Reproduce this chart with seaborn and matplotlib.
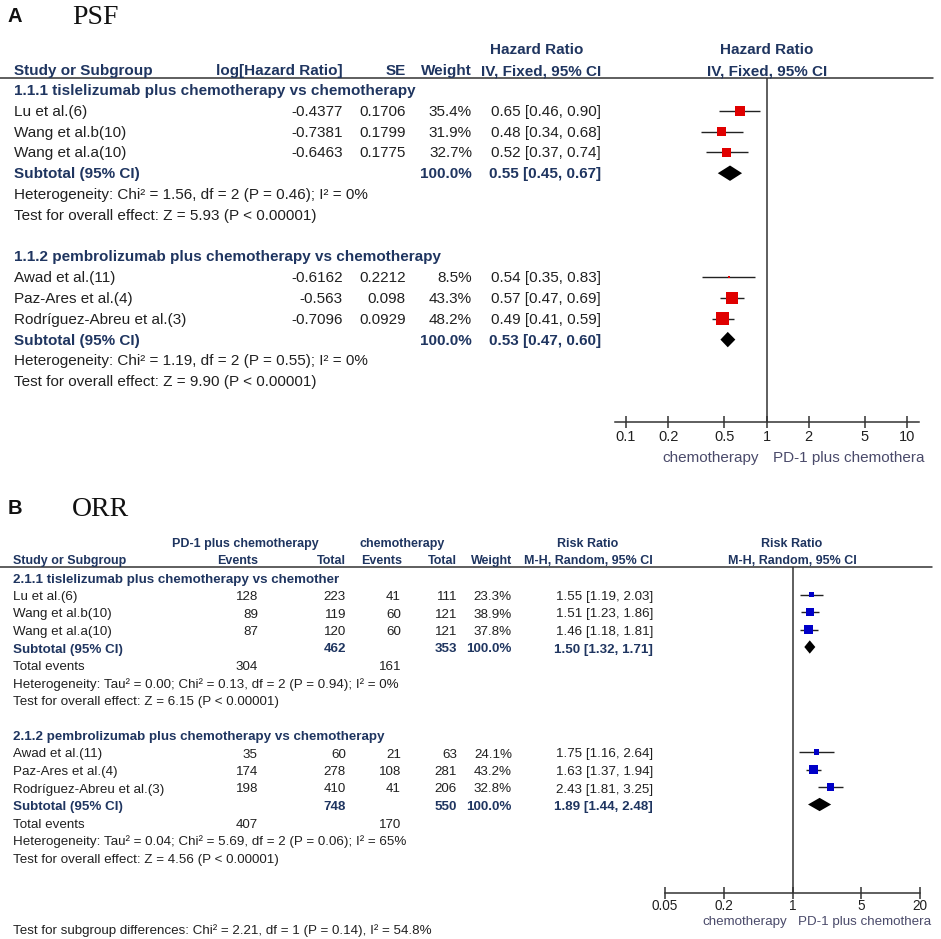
import numpy as np
import matplotlib
matplotlib.use('Agg')
import matplotlib.pyplot as plt
import seaborn as sns

# ---- panel A: PFS, hazard ratios ----
a_groups = ['1.1.1 tislelizumab plus chemotherapy vs chemotherapy',
            '1.1.2 pembrolizumab plus chemotherapy vs chemotherapy']
a_study = ['Lu et al.(6)', 'Wang et al.b(10)', 'Wang et al.a(10)',
           'Awad et al.(11)', 'Paz-Ares et al.(4)', 'Rodríguez-Abreu et al.(3)']
a_group = [0, 0, 0, 1, 1, 1]
a_loghr = [-0.4377, -0.7381, -0.6463, -0.6162, -0.563, -0.7096]
a_se = [0.1706, 0.1799, 0.1775, 0.2212, 0.098, 0.0929]
a_weight = [35.4, 31.9, 32.7, 8.5, 43.3, 48.2]
a_hr = [0.65, 0.48, 0.52, 0.54, 0.57, 0.49]
a_lo = [0.46, 0.34, 0.37, 0.35, 0.47, 0.41]
a_hi = [0.90, 0.68, 0.74, 0.83, 0.69, 0.59]
a_sub_hr = [0.55, 0.53]
a_sub_lo = [0.45, 0.47]
a_sub_hi = [0.67, 0.60]
a_het = ['Heterogeneity: Chi² = 1.56, df = 2 (P = 0.46); I² = 0%',
         'Heterogeneity: Chi² = 1.19, df = 2 (P = 0.55); I² = 0%']
a_test = ['Test for overall effect: Z = 5.93 (P < 0.00001)',
          'Test for overall effect: Z = 9.90 (P < 0.00001)']
a_ticks = [0.1, 0.2, 0.5, 1, 2, 5, 10]
a_ticklabels = ['0.1', '0.2', '0.5', '1', '2', '5', '10']

# ---- panel B: ORR, risk ratios ----
b_groups = ['2.1.1 tislelizumab plus chemotherapy vs chemother',
            '2.1.2 pembrolizumab plus chemotherapy vs chemotherapy']
b_study = ['Lu et al.(6)', 'Wang et al.b(10)', 'Wang et al.a(10)',
           'Awad et al.(11)', 'Paz-Ares et al.(4)', 'Rodríguez-Abreu et al.(3)']
b_group = [0, 0, 0, 1, 1, 1]
b_ev1 = [128, 89, 87, 35, 174, 198]
b_tot1 = [223, 119, 120, 60, 278, 410]
b_ev2 = [41, 60, 60, 21, 108, 41]
b_tot2 = [111, 121, 121, 63, 281, 206]
b_weight = [23.3, 38.9, 37.8, 24.1, 43.2, 32.8]
b_rr = [1.55, 1.51, 1.46, 1.75, 1.63, 2.43]
b_lo = [1.19, 1.23, 1.18, 1.16, 1.37, 1.81]
b_hi = [2.03, 1.86, 1.81, 2.64, 1.94, 3.25]
b_sub_tot1 = [462, 748]
b_sub_tot2 = [353, 550]
b_sub_ev1 = [304, 407]
b_sub_ev2 = [161, 170]
b_sub_rr = [1.50, 1.89]
b_sub_lo = [1.32, 1.44]
b_sub_hi = [1.71, 2.48]
b_het = ['Heterogeneity: Tau² = 0.00; Chi² = 0.13, df = 2 (P = 0.94); I² = 0%',
         'Heterogeneity: Tau² = 0.04; Chi² = 5.69, df = 2 (P = 0.06); I² = 65%']
b_test = ['Test for overall effect: Z = 6.15 (P < 0.00001)',
          'Test for overall effect: Z = 4.56 (P < 0.00001)']
b_diff = 'Test for subgroup differences: Chi² = 2.21, df = 1 (P = 0.14), I² = 54.8%'
b_ticks = [0.05, 0.2, 1, 5, 20]
b_ticklabels = ['0.05', '0.2', '1', '5', '20']

# favours labels, cut at the right edge as in the source image
side_left = 'chemotherapy'
side_right = 'PD-1 plus chemothera'

sns.set_theme(style='white')
plt.rcParams['font.family'] = ['Liberation Sans', 'DejaVu Sans']

W, H = 941, 939
TXT = '#202020'
NAVY = '#1F3560'
SIDE = '#4A4A6A'

fig = plt.figure(figsize=(W / 100, H / 100), dpi=100)
bg = fig.add_axes([0, 0, 1, 1])
bg.set_xlim(0, W)
bg.set_ylim(H, 0)
bg.axis('off')

# row geometry (pixels)
A_Y0, A_DY, A_FS, A_OFF = 90, 20.8, 11, 1
B_Y0, B_DY, B_FS, B_OFF = 577, 17.5, 9.6, 2.5
B_HFS = 9.0


def put(x, y, s, fs, ha='left', bold=False, color=TXT, **kw):
    return bg.text(x, y, s, ha=ha, va='center', fontsize=fs,
                   fontweight='bold' if bold else 'normal', color=color, **kw)


def forest_axes(left, right, top, bottom, y0, dy):
    ax = fig.add_axes([left / W, 1 - bottom / H, (right - left) / W, (bottom - top) / H])
    ax.set_xscale('log')
    ax.set_ylim((bottom - y0) / dy, (top - y0) / dy)
    ax.patch.set_alpha(0)
    for sp in ['top', 'left', 'right']:
        ax.spines[sp].set_visible(False)
    ax.spines['bottom'].set_color('#333333')
    ax.spines['bottom'].set_linewidth(1.1)
    ax.set_yticks([])
    ax.minorticks_off()
    return ax


# ================= Panel A =================
bg.text(8, 17, 'A', fontsize=14.5, fontweight='bold', va='center', color='#111111')
bg.text(72, 17, 'PSF', fontsize=20, family='Liberation Serif', va='center', color='#111111')

put(537, 50, 'Hazard Ratio', A_FS, ha='center', bold=True, color=NAVY)
put(767, 50, 'Hazard Ratio', A_FS, ha='center', bold=True, color=NAVY)
put(14, 71, 'Study or Subgroup', A_FS, bold=True, color=NAVY)
put(343, 71, 'log[Hazard Ratio]', A_FS, ha='right', bold=True, color=NAVY)
put(406, 71, 'SE', A_FS, ha='right', bold=True, color=NAVY)
put(472, 71, 'Weight', A_FS, ha='right', bold=True, color=NAVY)
put(601, 71, 'IV, Fixed, 95% CI', A_FS, ha='right', bold=True, color=NAVY)
put(767, 71, 'IV, Fixed, 95% CI', A_FS, ha='center', bold=True, color=NAVY)
bg.plot([0, 933], [78, 78], color='#333333', lw=1.1)

a_rows = []
for g in range(2):
    base = g * 8
    put(14, A_Y0 + base * A_DY + A_OFF, a_groups[g], A_FS, bold=True, color=NAVY)
    idx = [i for i in range(len(a_study)) if a_group[i] == g]
    for k, i in enumerate(idx):
        r = base + 1 + k
        a_rows.append(r)
        y = A_Y0 + r * A_DY + A_OFF
        put(14, y, a_study[i], A_FS)
        put(343, y, str(a_loghr[i]), A_FS, ha='right')
        put(406, y, str(a_se[i]), A_FS, ha='right')
        put(472, y, f'{a_weight[i]:.1f}%', A_FS, ha='right')
        put(601, y, f'{a_hr[i]:.2f} [{a_lo[i]:.2f}, {a_hi[i]:.2f}]', A_FS, ha='right')
    y = A_Y0 + (base + 4) * A_DY + A_OFF
    put(14, y, 'Subtotal (95% CI)', A_FS, bold=True, color=NAVY)
    put(472, y, '100.0%', A_FS, ha='right', bold=True, color=NAVY)
    put(601, y, f'{a_sub_hr[g]:.2f} [{a_sub_lo[g]:.2f}, {a_sub_hi[g]:.2f}]', A_FS,
        ha='right', bold=True, color=NAVY)
    put(14, A_Y0 + (base + 5) * A_DY + A_OFF, a_het[g], A_FS)
    put(14, A_Y0 + (base + 6) * A_DY + A_OFF, a_test[g], A_FS)

axa = forest_axes(615, 919, 78, 422, A_Y0, A_DY)
axa.set_xlim(10 ** (-1 - 11 / 140.5), 10 ** (1 + 12 / 140.5))
axa.axvline(1, color='#333333', lw=1.1)
axa.hlines(a_rows, a_lo, a_hi, color='#222222', lw=1.0)
sns.scatterplot(x=a_hr, y=a_rows, ax=axa, marker='s', color='#E00000', linewidth=0,
                s=[(max(0.27 * w, 2.5) * 0.72) ** 2 for w in a_weight], zorder=3, legend=False)
for g in range(2):
    r = g * 8 + 4
    h = 0.37
    axa.fill([a_sub_lo[g], a_sub_hr[g], a_sub_hi[g], a_sub_hr[g]],
             [r, r - h, r, r + h], color='black', lw=0, zorder=3)
axa.set_xticks(a_ticks)
axa.set_xticklabels(a_ticklabels)
axa.minorticks_off()
axa.tick_params(axis='x', direction='inout', length=9, width=1.1, color='#333333',
                labelsize=10.5, labelcolor=TXT, pad=1, bottom=True)

put(759, 458, side_left, A_FS, ha='right', color=SIDE)
put(773, 458, side_right, A_FS, color=SIDE)

# ================= Panel B =================
bg.text(8, 509, 'B', fontsize=14.5, fontweight='bold', va='center', color='#111111')
bg.text(72, 509, 'ORR', fontsize=20, family='Liberation Serif', va='center', color='#111111')

put(245, 544, 'PD-1 plus chemotherapy', B_HFS, ha='center', bold=True, color=NAVY)
put(402, 544, 'chemotherapy', B_HFS, ha='center', bold=True, color=NAVY)
put(588, 544, 'Risk Ratio', B_HFS, ha='center', bold=True, color=NAVY)
put(792, 544, 'Risk Ratio', B_HFS, ha='center', bold=True, color=NAVY)
put(13, 561, 'Study or Subgroup', B_HFS, bold=True, color=NAVY)
put(258, 561, 'Events', B_HFS, ha='right', bold=True, color=NAVY)
put(346, 561, 'Total', B_HFS, ha='right', bold=True, color=NAVY)
put(402, 561, 'Events', B_HFS, ha='right', bold=True, color=NAVY)
put(457, 561, 'Total', B_HFS, ha='right', bold=True, color=NAVY)
put(512, 561, 'Weight', B_HFS, ha='right', bold=True, color=NAVY)
put(653, 561, 'M-H, Random, 95% CI', B_HFS, ha='right', bold=True, color=NAVY)
put(792, 561, 'M-H, Random, 95% CI', B_HFS, ha='center', bold=True, color=NAVY)
bg.plot([0, 932], [567, 567], color='#333333', lw=1.1)

b_rows = []
for g in range(2):
    base = g * 9
    put(13, B_Y0 + base * B_DY + B_OFF, b_groups[g], B_FS, bold=True, color=NAVY)
    idx = [i for i in range(len(b_study)) if b_group[i] == g]
    for k, i in enumerate(idx):
        r = base + 1 + k
        b_rows.append(r)
        y = B_Y0 + r * B_DY + B_OFF
        put(13, y, b_study[i], B_FS)
        put(258, y, str(b_ev1[i]), B_FS, ha='right')
        put(346, y, str(b_tot1[i]), B_FS, ha='right')
        put(401, y, str(b_ev2[i]), B_FS, ha='right')
        put(457, y, str(b_tot2[i]), B_FS, ha='right')
        put(512, y, f'{b_weight[i]:.1f}%', B_FS, ha='right')
        put(653, y, f'{b_rr[i]:.2f} [{b_lo[i]:.2f}, {b_hi[i]:.2f}]', B_FS, ha='right')
    y = B_Y0 + (base + 4) * B_DY + B_OFF
    put(13, y, 'Subtotal (95% CI)', B_FS, bold=True, color=NAVY)
    put(346, y, str(b_sub_tot1[g]), B_FS, ha='right', bold=True, color=NAVY)
    put(457, y, str(b_sub_tot2[g]), B_FS, ha='right', bold=True, color=NAVY)
    put(512, y, '100.0%', B_FS, ha='right', bold=True, color=NAVY)
    put(653, y, f'{b_sub_rr[g]:.2f} [{b_sub_lo[g]:.2f}, {b_sub_hi[g]:.2f}]', B_FS,
        ha='right', bold=True, color=NAVY)
    y = B_Y0 + (base + 5) * B_DY + B_OFF
    put(13, y, 'Total events', B_FS)
    put(258, y, str(b_sub_ev1[g]), B_FS, ha='right')
    put(401, y, str(b_sub_ev2[g]), B_FS, ha='right')
    put(13, B_Y0 + (base + 6) * B_DY + B_OFF, b_het[g], B_FS)
    put(13, B_Y0 + (base + 7) * B_DY + B_OFF, b_test[g], B_FS)
put(13, 931, b_diff, B_FS)

axb = forest_axes(665, 920, 567, 893, B_Y0, B_DY)
axb.set_xlim(b_ticks[0], b_ticks[-1])
axb.axvline(1, color='#333333', lw=1.1)
axb.hlines(b_rows, b_lo, b_hi, color='#222222', lw=1.0)
sns.scatterplot(x=b_rr, y=b_rows, ax=axb, marker='s', color='#0000C8', linewidth=0,
                s=[(0.22 * w * 0.72) ** 2 for w in b_weight], zorder=3, legend=False)
for g in range(2):
    r = g * 9 + 4
    h = 0.38
    axb.fill([b_sub_lo[g], b_sub_rr[g], b_sub_hi[g], b_sub_rr[g]],
             [r, r - h, r, r + h], color='black', lw=0, zorder=3)
axb.set_xticks(b_ticks)
axb.set_xticklabels(b_ticklabels)
axb.minorticks_off()
axb.tick_params(axis='x', direction='inout', length=9, width=1.1, color='#333333',
                labelsize=9.8, labelcolor=TXT, pad=0, bottom=True)

put(787, 922, side_left, B_FS, ha='right', color=SIDE)
put(798, 922, side_right, B_FS, color=SIDE)

fig.savefig('out.png', dpi=100)
